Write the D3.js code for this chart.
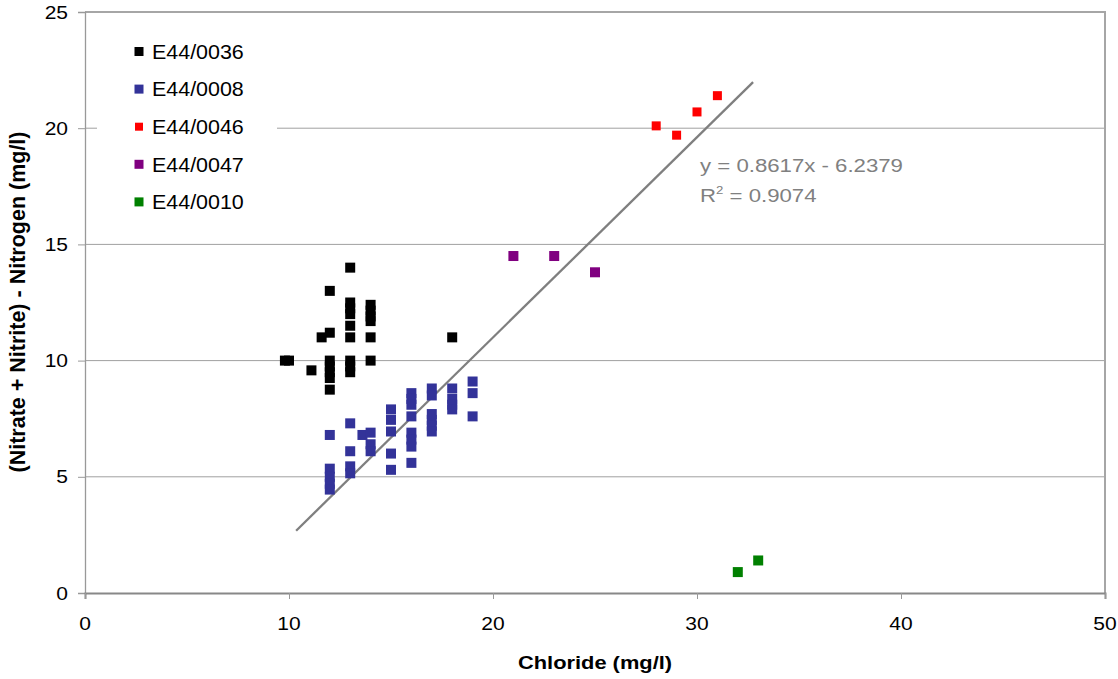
<!DOCTYPE html>
<html>
<head>
<meta charset="utf-8">
<script src="https://cdn.jsdelivr.net/npm/d3@7"></script>
<style>
  html, body { margin: 0; padding: 0; background: #fff; }
  svg { display: block; font-family: "Liberation Sans", Arial, sans-serif; }
</style>
</head>
<body>
<svg id="chart" width="1118" height="679"></svg>
<script>
// Chloride (mg/l) vs (Nitrate + Nitrite) - Nitrogen (mg/l), by bore
const seriesNames = ["E44/0036", "E44/0008", "E44/0046", "E44/0047", "E44/0010"];
const seriesColors = ["#000000", "#333399", "#ff0000", "#800080", "#008000"];

const e440036 = [
  [9.8, 10.0], [10.0, 10.0], [11.1, 9.58], [11.6, 11.0], [12, 11.2], [12, 13.0],
  [12, 10.0], [12, 9.75], [12, 9.5], [12, 9.25], [12, 8.75],
  [13, 14.0], [13, 12.5], [13, 12.25], [13, 12.0], [13, 11.5], [13, 11.0],
  [13, 10.0], [13, 9.75], [13, 9.5],
  [14, 12.4], [14, 12.15], [14, 11.9], [14, 11.7], [14, 11.0], [14, 10.0],
  [18, 11.0]
];
const e440008 = [
  [12, 6.8], [12, 5.35], [12, 5.0], [12, 4.7], [12, 4.45],
  [13, 7.3], [13, 6.1], [13, 5.45], [13, 5.15],
  [13.6, 6.8], [14, 6.9], [14, 6.4], [14, 6.1],
  [15, 7.9], [15, 7.45], [15, 6.95], [15, 6.0], [15, 5.3],
  [16, 8.6], [16, 8.35], [16, 8.1], [16, 7.6], [16, 6.9], [16, 6.6], [16, 6.3], [16, 5.6],
  [17, 8.8], [17, 8.5], [17, 7.7], [17, 7.45], [17, 7.2], [17, 6.95],
  [18, 8.8], [18, 8.35], [18, 8.1], [18, 7.9],
  [19, 9.1], [19, 8.6], [19, 7.6]
];
const e440046 = [[28, 20.1], [29, 19.7], [30, 20.7], [31, 21.4]];
const e440047 = [[21, 14.5], [23, 14.5], [25, 13.8]];
const e440010 = [[32, 0.9], [33, 1.4]];
const seriesData = [e440036, e440008, e440046, e440047, e440010];

const xTicks = [0, 10, 20, 30, 40, 50];
const yTicks = [0, 5, 10, 15, 20, 25];

// Linear trendline
const slope = 0.8617, intercept = -6.2379, rSquared = 0.9074;
const trendRange = [10.35, 32.75];

const svg = d3.select("#chart");
const x = d3.scaleLinear().domain([0, 50]).range([85, 1105]);
const y = d3.scaleLinear().domain([0, 25]).range([593, 12]);

// stretched text helper (wide glyph proportions)
function label(g, px, py, str, opts) {
  const o = Object.assign({size: 17, sx: 1.2, anchor: "start", fill: "#000", weight: "normal"}, opts);
  return g.append("text")
    .attr("transform", `translate(${px},${py}) scale(${o.sx},1)`)
    .attr("text-anchor", o.anchor)
    .attr("font-size", o.size)
    .attr("font-weight", o.weight)
    .attr("fill", o.fill)
    .text(str);
}

// gridlines
svg.append("g").selectAll("line")
  .data(yTicks.filter(d => d > 0 && d < 25))
  .join("line")
  .attr("x1", x(0)).attr("x2", x(50))
  .attr("y1", d => y(d)).attr("y2", d => y(d))
  .attr("stroke", "#a0a0a0").attr("stroke-width", 1);

// plot border (top and right)
svg.append("path")
  .attr("d", `M${x(0)},${y(25)}H${x(50)}V${y(0)}`)
  .attr("fill", "none").attr("stroke", "#a6a6a6").attr("stroke-width", 2);

// y axis
const yAxis = svg.append("g")
  .attr("transform", `translate(${x(0)},0)`)
  .call(d3.axisLeft(y).tickValues(yTicks).tickSize(7).tickFormat(""));
yAxis.select(".domain").attr("stroke", "#999").attr("stroke-width", 1.3);
yAxis.selectAll(".tick line").attr("stroke", "#999");
yTicks.forEach(t => label(svg, 68, y(t) + 6.5, String(t), {anchor: "end", size: 17.5, sx: 1.2}));

// x axis
const xAxis = svg.append("g")
  .attr("transform", `translate(0,${y(0)})`)
  .call(d3.axisBottom(x).tickValues(xTicks).tickSize(6).tickFormat(""));
xAxis.select(".domain").attr("stroke", "#888").attr("stroke-width", 2);
xAxis.selectAll(".tick line").attr("stroke", "#999");
xTicks.forEach(t => label(svg, x(t), 630, String(t), {anchor: "middle", size: 17.5, sx: 1.2}));

// axis titles
label(svg, 595, 669, "Chloride (mg/l)", {anchor: "middle", size: 19, sx: 1.15, weight: "bold"});
svg.append("text")
  .attr("transform", "translate(25,302) rotate(-90)")
  .attr("text-anchor", "middle")
  .attr("font-size", 21.5)
  .attr("font-weight", "bold")
  .text("(Nitrate + Nitrite) - Nitrogen (mg/l)");

// legend
const legend = svg.append("g");
legend.append("rect")
  .attr("x", 97).attr("y", 28).attr("width", 180).attr("height", 192)
  .attr("fill", "#fff");
seriesNames.forEach((name, i) => {
  const cy = 51.5 + i * 37.6;
  const s = i === 2 ? 8 : 9;
  legend.append("rect")
    .attr("x", 139 - s / 2).attr("y", cy - s / 2)
    .attr("width", s).attr("height", s)
    .attr("fill", seriesColors[i]);
  label(legend, 152, cy + 7.2, name, {size: 19.5, sx: 1.1});
});

// trendline
svg.append("line")
  .attr("x1", x(trendRange[0])).attr("y1", y(slope * trendRange[0] + intercept))
  .attr("x2", x(trendRange[1])).attr("y2", y(slope * trendRange[1] + intercept))
  .attr("stroke", "#7f7f7f").attr("stroke-width", 2.3);

// markers
seriesData.forEach((data, i) => {
  const s = i === 2 ? 9 : 10;
  svg.append("g").selectAll("rect")
    .data(data)
    .join("rect")
    .attr("x", d => x(d[0]) - s / 2)
    .attr("y", d => y(d[1]) - s / 2)
    .attr("width", s).attr("height", s)
    .attr("fill", seriesColors[i]);
});

// regression annotation
label(svg, 700, 172, `y = ${slope}x - ${Math.abs(intercept)}`, {size: 18.5, sx: 1.2, fill: "#808080"});
const r2 = svg.append("text")
  .attr("transform", "translate(700,202) scale(1.2,1)")
  .attr("font-size", 18.5)
  .attr("fill", "#808080");
r2.append("tspan").text("R");
r2.append("tspan").attr("font-size", 11).attr("dy", -8).text("2");
r2.append("tspan").attr("dy", 8).text(` = ${rSquared}`);
</script>
</body>
</html>
